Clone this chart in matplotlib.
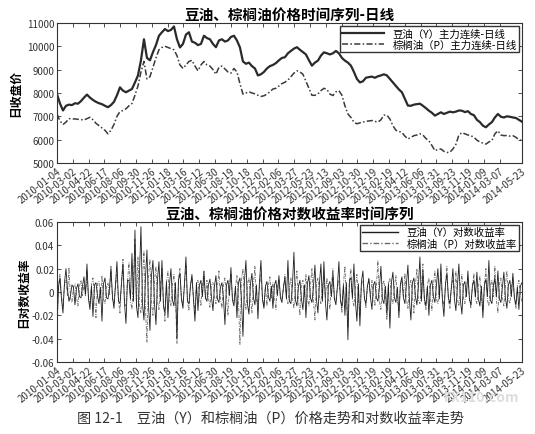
import matplotlib.pyplot as plt
import numpy as np

plt.rcParams['font.family'] = ['Noto Sans CJK SC', 'DejaVu Sans']

# tick labels (trading dates) -- 29 evenly spaced + the last day
date_labels = ['2010-01-04', '2010-03-02', '2010-04-22', '2010-06-17', '2010-08-06',
               '2010-09-30', '2010-11-26', '2011-01-18', '2011-03-16', '2011-05-12',
               '2011-06-30', '2011-08-19', '2011-10-18', '2011-12-07', '2012-02-06',
               '2012-03-27', '2012-05-23', '2012-07-13', '2012-09-03', '2012-10-30',
               '2012-12-19', '2013-02-19', '2013-04-12', '2013-06-06', '2013-07-31',
               '2013-09-23', '2013-11-19', '2014-01-09', '2014-03-07', '2014-05-23']
tick_step = 37
n_days = 1088

# daily close (about one value per week)
price_y = [7950, 7550, 7250, 7450, 7500, 7480, 7560, 7540, 7650, 7800,
           7930, 7800, 7700, 7620, 7560, 7520, 7450, 7390, 7480, 7620,
           7900, 8240, 8100, 8030, 8100, 8170, 8450, 8750, 9400, 10300,
           9500, 9400, 9750, 10050, 10450, 10600, 10740, 10650, 10700, 10850,
           10300, 9950, 10100, 10500, 10600, 10200, 10150, 10050, 10100, 10450,
           10350, 10300, 10100, 9960, 10250, 10300, 10200, 10250, 10400, 10450,
           10250, 9950, 9350, 9250, 9300, 9150, 9050, 8750, 8800, 8900,
           9050, 9150, 9200, 9280, 9400, 9500, 9530, 9700, 9800, 9900,
           9960, 9850, 9750, 9650, 9400, 9170, 9300, 9385, 9600, 9740,
           9700, 9650, 9700, 9800, 9700, 9500, 9385, 9300, 9170, 8900,
           8600, 8450, 8500, 8650, 8680, 8700, 8650, 8715, 8750, 8800,
           8750, 8600, 8450, 8300, 8150, 8030, 7750, 7460, 7450, 7500,
           7520, 7540, 7450, 7350, 7240, 7150, 7030, 7100, 7170, 7100,
           7150, 7200, 7170, 7200, 7250, 7240, 7180, 7220, 7100, 7050,
           6850, 6750, 6600, 6530, 6650, 6750, 6950, 7100, 6980, 6950,
           7000, 6980, 6950, 6930, 6850, 6770]
price_p = [7100, 6800, 6650, 6750, 6900, 6880, 6890, 6870, 6860, 6840,
           6900, 6960, 6850, 6700, 6600, 6500, 6400, 6250, 6400, 6650,
           7000, 7200, 7250, 7320, 7450, 7550, 7900, 8300, 8900, 9350,
           8600, 8700, 9100, 9500, 9850, 9950, 10000, 9950, 9900, 9850,
           9600, 9200, 9050, 9200, 9350, 9400, 9150, 8950, 9200, 9350,
           9200, 9150, 9000, 8800, 9100, 9150, 9030, 8900, 8850, 9050,
           8900, 8400, 7950, 8000, 8050, 8000, 7960, 7900, 7850, 7880,
           7950, 8050, 8170, 8200, 8300, 8400, 8460, 8550, 8700, 8850,
           8950, 8900, 8800, 8500, 8200, 7900, 7900, 7960, 8100, 8200,
           8150, 7950, 7890, 8050, 8100, 7900, 7450, 7100, 6950, 6750,
           6680, 6720, 6750, 6790, 6800, 6820, 6780, 6750, 6850, 7050,
           7050, 6880, 6600, 6400, 6350, 6310, 6150, 6030, 6100, 6170,
           6200, 6250, 6200, 6050, 5950, 5750, 5530, 5580, 5600, 5500,
           5450, 5460, 5600, 5800, 6200, 6300, 6250, 6200, 6170, 6100,
           5980, 5900, 5850, 5810, 5900, 5960, 6250, 6380, 6200, 6170,
           6180, 6150, 6170, 6100, 6000, 5960]

# log returns
ret_y = [-0.030, 0.004, 0.012, -0.006, -0.018, 0.008, 0.020, 0.002, -0.008, -0.003,
         0.006, 0.004, -0.011, 0.003, 0.007, -0.004, -0.005, 0.005, 0.013, -0.002,
         0.024, -0.006, -0.015, 0.005, -0.021, 0.006, 0.008, -0.003, -0.010, 0.004,
         -0.025, 0.007, 0.012, -0.005, -0.006, 0.003, 0.020, -0.004, -0.014, 0.006,
         0.026, -0.008, -0.010, 0.007, 0.024, -0.009, -0.027, 0.010, 0.010, -0.006,
         0.033, -0.008, 0.053, -0.012, -0.022, 0.015, 0.056, -0.010, -0.024, 0.012,
         0.036, -0.011, -0.033, 0.014, 0.027, -0.009, -0.028, 0.010, 0.026, -0.008,
         0.027, -0.012, -0.018, 0.009, -0.022, 0.006, 0.020, -0.007, -0.012, 0.008,
         -0.040, 0.010, 0.016, -0.006, -0.014, 0.007, 0.030, -0.008, -0.010, 0.005,
         0.015, -0.006, -0.025, 0.008, -0.016, 0.006, 0.010, -0.004, 0.017, -0.005,
         -0.008, 0.006, 0.011, -0.004, -0.016, 0.005, 0.014, -0.006, -0.009, 0.004,
         0.008, -0.005, -0.028, 0.006, 0.010, -0.003, 0.021, -0.007, -0.012, 0.005,
         -0.022, 0.008, 0.012, -0.006, -0.038, 0.009, 0.027, -0.010, -0.019, 0.007,
         0.016, -0.005, -0.011, 0.006, -0.023, 0.008, 0.027, -0.006, -0.014, 0.005,
         0.009, -0.004, -0.008, 0.005, -0.014, 0.006, 0.010, -0.003, 0.014, -0.005,
         -0.009, 0.004, 0.012, -0.006, 0.027, -0.008, -0.010, 0.006, 0.034, -0.007,
         -0.012, 0.005, 0.010, -0.006, -0.015, 0.006, -0.022, 0.007, 0.014, -0.005,
         -0.009, 0.004, 0.023, -0.006, -0.018, 0.007, 0.024, -0.008, 0.026, -0.009,
         -0.024, 0.006, 0.009, -0.004, 0.016, -0.006, -0.011, 0.005, 0.026, -0.007,
         -0.013, 0.006, -0.020, 0.008, -0.041, 0.010, 0.012, -0.005, 0.024, -0.008,
         -0.025, 0.007, -0.029, 0.009, 0.018, -0.006, -0.010, 0.005, 0.011, -0.004,
         -0.015, 0.006, 0.009, -0.005, -0.008, 0.004, 0.022, -0.006, -0.010, 0.005,
         -0.019, 0.007, -0.031, 0.008, 0.017, -0.005, -0.009, 0.004, -0.022, 0.007,
         0.013, -0.005, -0.010, 0.006, 0.023, -0.007, -0.024, 0.008, 0.012, -0.004,
         -0.011, 0.005, 0.030, -0.008, 0.018, -0.006, -0.012, 0.005, -0.020, 0.006,
         0.010, -0.004, -0.009, 0.005, 0.020, -0.006, 0.024, -0.007, -0.021, 0.006,
         0.016, -0.005, -0.010, 0.004, 0.020, -0.006, -0.016, 0.005, 0.024, -0.007,
         -0.019, 0.006, 0.009, -0.004, 0.018, -0.006, -0.011, 0.005, 0.010, -0.004,
         0.017, -0.006, -0.012, 0.005, -0.022, 0.006, 0.011, -0.004, 0.027, -0.007,
         -0.010, 0.005, 0.012, -0.004, 0.018, -0.006, -0.009, 0.004, 0.017, -0.005,
         -0.014, 0.006, 0.010, -0.004, 0.016, -0.005, -0.011, 0.004, -0.015, 0.005,
         0.008]
ret_p = [-0.033, 0.005, 0.015, -0.004, -0.012, 0.006, 0.010, -0.003, 0.021, -0.005,
         -0.009, 0.004, 0.007, -0.004, -0.012, 0.005, 0.010, -0.003, 0.006, -0.004,
         0.018, -0.005, -0.010, 0.006, 0.012, -0.004, -0.022, 0.007, 0.009, -0.005,
         0.014, -0.006, -0.010, 0.004, 0.008, -0.003, 0.022, -0.006, -0.010, 0.005,
         0.015, -0.007, -0.018, 0.008, 0.028, -0.010, -0.012, 0.009, 0.025, -0.008,
         -0.015, 0.011, 0.045, -0.013, 0.030, -0.012, -0.018, 0.010, 0.035, -0.014,
         -0.043, 0.012, 0.028, -0.010, -0.020, 0.009, 0.022, -0.008, -0.015, 0.007,
         0.020, -0.009, -0.025, 0.008, 0.018, -0.006, -0.012, 0.007, 0.015, -0.006,
         -0.044, 0.011, 0.020, -0.007, -0.010, 0.006, 0.022, -0.008, -0.016, 0.006,
         0.012, -0.005, -0.018, 0.007, 0.010, -0.004, -0.012, 0.006, 0.018, -0.006,
         0.010, -0.005, -0.013, 0.006, 0.008, -0.004, -0.010, 0.005, 0.018, -0.006,
         -0.014, 0.006, 0.012, -0.005, -0.020, 0.007, 0.015, -0.005, -0.008, 0.004,
         0.014, -0.006, -0.045, 0.010, 0.020, -0.008, -0.015, 0.007, 0.012, -0.005,
         -0.018, 0.006, 0.022, -0.007, -0.010, 0.005, 0.015, -0.006, -0.012, 0.005,
         -0.012, 0.006, 0.013, -0.005, 0.008, -0.004, -0.015, 0.006, 0.010, -0.004,
         -0.006, 0.003, 0.015, -0.005, -0.010, 0.004, 0.012, -0.005, -0.014, 0.006,
         0.018, -0.006, -0.020, 0.007, 0.010, -0.004, 0.015, -0.006, -0.012, 0.005,
         0.020, -0.007, -0.024, 0.008, 0.012, -0.005, -0.010, 0.004, 0.014, -0.005,
         0.012, -0.005, -0.015, 0.006, 0.020, -0.007, -0.008, 0.004, 0.010, -0.005,
         -0.018, 0.006, 0.022, -0.008, -0.030, 0.009, 0.020, -0.007, -0.012, 0.005,
         0.015, -0.006, -0.020, 0.007, 0.010, -0.004, -0.014, 0.005, 0.012, -0.005,
         0.010, -0.004, -0.012, 0.005, 0.027, -0.008, -0.015, 0.006, 0.010, -0.004,
         -0.024, 0.007, 0.012, -0.005, -0.010, 0.004, 0.014, -0.006, -0.016, 0.006,
         0.010, -0.004, 0.016, -0.006, -0.014, 0.005, 0.010, -0.004, -0.018, 0.006,
         0.020, -0.007, -0.010, 0.005, 0.024, -0.008, -0.015, 0.006, 0.012, -0.005,
         -0.016, 0.006, 0.018, -0.006, -0.010, 0.004, 0.012, -0.005, -0.012, 0.005,
         0.022, -0.007, -0.014, 0.005, 0.010, -0.004, 0.018, -0.006, -0.012, 0.005,
         0.015, -0.005, -0.010, 0.004, 0.012, -0.005, -0.014, 0.005, 0.016, -0.006,
         -0.010, 0.004, 0.014, -0.005, -0.016, 0.006, 0.020, -0.007, -0.012, 0.005,
         0.010, -0.004, 0.022, -0.007, -0.018, 0.006, 0.012, -0.005, -0.012, 0.005,
         0.018, -0.006, -0.010, 0.004, 0.012, -0.005, -0.014, 0.005, 0.010, -0.004,
         -0.008]

tick_pos = list(range(0, tick_step * 29, tick_step)) + [n_days]

fig = plt.figure(figsize=(5.35, 4.35), dpi=100)
ax1 = fig.add_axes([0.1065, 0.623, 0.869, 0.322])
ax2 = fig.add_axes([0.1065, 0.1655, 0.869, 0.322])

x1 = np.linspace(0, n_days, len(price_y))
ax1.plot(x1, price_y, color='#2a2a2a', lw=1.6, label='豆油（Y）主力连续-日线')
ax1.plot(x1, price_p, color='#3a3a3a', lw=1.1, ls=(0, (4, 1.5, 1, 1.5)),
         label='棕榈油（P）主力连续-日线')
ax1.set_ylim(5000, 11000)
ax1.set_yticks(range(5000, 11001, 1000))
ax1.set_title('豆油、棕榈油价格时间序列-日线', fontsize=10.5, fontweight='bold', pad=3)
ax1.set_ylabel('日收盘价', fontsize=8.5, fontweight='bold', labelpad=3)

x2 = np.linspace(0, n_days, len(ret_y))
ax2.plot(x2, ret_p, color='#6a6a6a', lw=0.6, ls=(0, (4, 1.5, 1, 1.5)),
         label='棕榈油（P）对数收益率')
ax2.plot(x2, ret_y, color='#1e1e1e', lw=0.6, label='豆油（Y）对数收益率')
ax2.set_ylim(-0.06, 0.06)
ax2.set_yticks([-0.06, -0.04, -0.02, 0, 0.02, 0.04, 0.06])
ax2.set_yticklabels(['-0.06', '-0.04', '-0.02', '0', '0.02', '0.04', '0.06'])
ax2.set_title('豆油、棕榈油价格对数收益率时间序列', fontsize=10.5, fontweight='bold', pad=3)
ax2.set_ylabel('日对数收益率', fontsize=8.5, fontweight='bold', labelpad=1)
h, l = ax2.get_legend_handles_labels()
leg2 = ax2.legend(h[::-1], l[::-1], loc='upper right', fontsize=7.5, frameon=True,
                  fancybox=False, edgecolor='#333333', borderpad=0.2, labelspacing=0.1,
                  handlelength=3.5, borderaxespad=0.3, framealpha=1)
for line in leg2.get_lines():
    line.set_linewidth(1.0)
ax1.legend(loc='upper right', fontsize=7.5, frameon=True, fancybox=False,
           edgecolor='#333333', borderpad=0.2, labelspacing=0.1, handlelength=4,
           borderaxespad=0.3, framealpha=1)

for ax in (ax1, ax2):
    ax.set_xlim(0, n_days)
    ax.set_xticks(tick_pos)
    ax.set_xticklabels(date_labels, rotation=38, ha='right', rotation_mode='anchor',
                       fontsize=6.8, color='#444444')
    ax.tick_params(direction='in', top=True, right=True, length=3, width=0.6,
                   labelsize=7, colors='#333333', pad=2)
    for s in ax.spines.values():
        s.set_linewidth(0.8)
        s.set_color('#333333')

fig.text(0.505, 0.038, '图 12-1　豆油（Y）和棕榈油（P）价格走势和对数收益率走势',
         ha='center', va='center', fontsize=10.2, color='#333333')
fig.text(0.9, 0.085, 'FX110.com', ha='center', va='center', fontsize=10,
         color='#dddddd', fontweight='bold')

fig.savefig('out.png', dpi=100)
